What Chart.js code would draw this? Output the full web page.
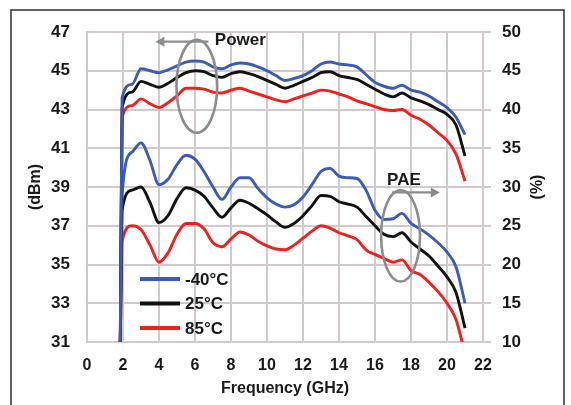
<!DOCTYPE html>
<html>
<head>
<meta charset="utf-8">
<script src="https://cdn.jsdelivr.net/npm/chart.js@4.4.0/dist/chart.umd.min.js"></script>
<style>
  html, body { margin: 0; padding: 0; background: #fff; }
  canvas { display: block; }
</style>
</head>
<body>
<canvas id="chart" width="571" height="405"></canvas>
<script>
// frequency grid (GHz)
const freq = [1.85, 1.95, 2.5, 3, 3.5, 4, 4.5, 5, 5.5, 6, 6.5, 7, 7.5, 8, 8.5, 9, 9.5, 10, 10.5, 11,
  11.5, 12, 12.5, 13, 13.5, 14, 14.5, 15, 15.5, 16, 16.5, 17, 17.5, 18, 18.5, 19, 19.5, 20, 20.5, 21];

// output power (dBm)
const powerM40 = [31, 43.6, 44.3, 45.1, 45.0, 44.9, 45.05, 45.25, 45.45, 45.5, 45.45, 45.2, 45.1, 45.3, 45.4, 45.35, 45.2, 45.0, 44.75, 44.5,
  44.6, 44.75, 45.0, 45.35, 45.45, 45.35, 45.3, 45.2, 44.8, 44.4, 44.2, 44.1, 44.25, 44.0, 43.9, 43.7, 43.4, 43.1, 42.6, 41.7];
const power25 = [31, 43.1, 43.9, 44.45, 44.3, 44.15, 44.35, 44.65, 44.9, 45.0, 44.95, 44.75, 44.66, 44.85, 44.95, 44.85, 44.7, 44.5, 44.3, 44.1,
  44.25, 44.45, 44.65, 44.9, 44.95, 44.75, 44.65, 44.55, 44.3, 44.05, 43.8, 43.65, 43.85, 43.6, 43.45, 43.25, 43.0, 42.75, 42.2, 40.6];
const power85 = [31, 42.6, 43.2, 43.55, 43.3, 43.1, 43.35, 43.7, 44.1, 44.1, 44.05, 43.9, 43.85, 44.0, 44.1, 43.95, 43.8, 43.65, 43.5, 43.4,
  43.55, 43.7, 43.85, 44.0, 43.95, 43.8, 43.65, 43.45, 43.3, 43.15, 43.0, 42.95, 43.0, 42.7, 42.5, 42.2, 41.8, 41.4, 40.7, 39.3];

// power added efficiency (%)
const paeM40 = [10, 29.0, 34.5, 35.7, 33.4, 30.3, 31.0, 32.9, 34.1, 33.6, 32.0, 30.0, 28.4, 30.0, 31.2, 31.2, 29.8, 28.6, 27.8, 27.4,
  27.7, 28.7, 30.3, 32.0, 32.4, 31.4, 31.2, 31.1, 29.6, 27.0, 25.8, 25.9, 26.6, 25.3, 24.6, 23.8, 22.8, 21.6, 19.7, 15.0];
const pae25 = [10, 27.0, 29.6, 30.0, 28.0, 25.4, 26.3, 28.5, 29.9, 29.6, 28.8, 27.3, 26.1, 27.3, 28.3, 27.9, 27.2, 26.4, 25.5, 24.8,
  25.3, 26.3, 27.6, 28.9, 28.8, 28.1, 27.8, 27.4, 26.2, 25.0, 23.9, 23.6, 24.1, 22.9, 22.0, 21.1, 19.8, 18.4, 16.4, 11.8];
const pae85 = [10, 23.0, 25.0, 24.5, 22.5, 20.3, 21.5, 23.9, 25.3, 25.3, 24.6, 22.8, 22.3, 23.3, 24.2, 23.8, 23.0, 22.4, 22.0, 21.9,
  22.5, 23.4, 24.3, 25.0, 24.7, 24.1, 23.7, 23.2, 21.9, 21.3, 20.8, 20.3, 20.6, 19.2, 18.7, 17.7, 16.5, 15.0, 12.9, 8.5];

const legendLabels = ['-40°C', '25°C', '85°C'];
const lineColors = ['#3a5cb8', '#111111', '#f0201e'];

// tick labels
const freqTicks = [0, 2, 4, 6, 8, 10, 12, 14, 16, 18, 20, 22];
const dbmTicks = [31, 33, 35, 37, 39, 41, 43, 45, 47];
const pctTicks = [10, 15, 20, 25, 30, 35, 40, 45, 50];

const FONT = '"Liberation Sans", Arial, sans-serif';
const GRID = '#d2caca';
const GRAY = '#8c8c8c';

function pts(ys) {
  return freq.map((f, i) => ({ x: f, y: ys[i] }));
}

function series(ys, idx, axis) {
  return {
    label: legendLabels[idx],
    data: pts(ys),
    yAxisID: axis,
    borderColor: lineColors[idx],
    borderWidth: 2.9,
    pointRadius: 0,
    fill: false,
    cubicInterpolationMode: 'monotone'
  };
}

function arrow(ctx, x1, y1, x2, y2) {
  // line from (x1,y1) to tip at (x2,y2)
  const ang = Math.atan2(y2 - y1, x2 - x1);
  ctx.beginPath();
  ctx.moveTo(x1, y1);
  ctx.lineTo(x2 - 6 * Math.cos(ang), y2 - 6 * Math.sin(ang));
  ctx.stroke();
  ctx.beginPath();
  ctx.moveTo(x2, y2);
  ctx.lineTo(x2 - 9 * Math.cos(ang) + 5 * Math.sin(ang), y2 - 9 * Math.sin(ang) - 5 * Math.cos(ang));
  ctx.lineTo(x2 - 9 * Math.cos(ang) - 5 * Math.sin(ang), y2 - 9 * Math.sin(ang) + 5 * Math.cos(ang));
  ctx.closePath();
  ctx.fill();
}

const decor = {
  id: 'decor',
  afterDraw(chart) {
    const ctx = chart.ctx;
    const xs = chart.scales.x, yl = chart.scales.y, yr = chart.scales.y1;
    const ca = chart.chartArea;
    ctx.save();

    // annotations: ellipses + arrows
    ctx.strokeStyle = GRAY;
    ctx.fillStyle = GRAY;
    ctx.lineWidth = 2.6;
    ctx.beginPath();
    ctx.ellipse(xs.getPixelForValue(6.1), yl.getPixelForValue(44.2),
      xs.getPixelForValue(7.23) - xs.getPixelForValue(6.1),
      yl.getPixelForValue(44.2) - yl.getPixelForValue(46.6), 0, 0, Math.PI * 2);
    ctx.stroke();
    ctx.beginPath();
    ctx.ellipse(xs.getPixelForValue(17.42), yr.getPixelForValue(23.7),
      xs.getPixelForValue(18.5) - xs.getPixelForValue(17.42),
      yr.getPixelForValue(23.7) - yr.getPixelForValue(29.6), 0, 0, Math.PI * 2);
    ctx.stroke();
    ctx.lineWidth = 2.2;
    arrow(ctx, xs.getPixelForValue(6.75), yl.getPixelForValue(46.5), xs.getPixelForValue(3.8), yl.getPixelForValue(46.5));
    arrow(ctx, xs.getPixelForValue(16.95), yr.getPixelForValue(29.3), xs.getPixelForValue(19.6), yr.getPixelForValue(29.3));

    ctx.fillStyle = '#1a1a1a';
    ctx.font = 'bold 17px ' + FONT;
    ctx.textBaseline = 'middle';
    ctx.textAlign = 'left';
    ctx.fillText('Power', xs.getPixelForValue(7.1), yl.getPixelForValue(46.55));
    ctx.fillText('PAE', xs.getPixelForValue(16.67), yr.getPixelForValue(30.9));

    // legend
    legendLabels.forEach((lab, i) => {
      const y = 279 + i * 24.5;
      ctx.strokeStyle = lineColors[i];
      ctx.lineWidth = 4;
      ctx.beginPath();
      ctx.moveTo(140, y);
      ctx.lineTo(180, y);
      ctx.stroke();
      ctx.fillStyle = '#1a1a1a';
      ctx.fillText(lab, 185, y + 1);
    });

    // axis titles
    ctx.font = 'bold 16px ' + FONT;
    ctx.textAlign = 'center';
    ctx.fillText('Frequency (GHz)', (ca.left + ca.right) / 2, 389);
    ctx.save();
    ctx.translate(36, 187);
    ctx.rotate(-Math.PI / 2);
    ctx.fillText('(dBm)', 0, 0);
    ctx.restore();
    ctx.save();
    ctx.translate(538, 187);
    ctx.rotate(-Math.PI / 2);
    ctx.fillText('(%)', 0, 0);
    ctx.restore();

    // outer frame
    ctx.strokeStyle = '#3a3a3a';
    ctx.lineWidth = 1.6;
    ctx.strokeRect(11, 10, 553, 420);
    ctx.restore();
  }
};

new Chart(document.getElementById('chart'), {
  type: 'line',
  data: {
    datasets: [
      series(powerM40, 0, 'y'),
      series(power25, 1, 'y'),
      series(power85, 2, 'y'),
      series(paeM40, 0, 'y1'),
      series(pae25, 1, 'y1'),
      series(pae85, 2, 'y1')
    ]
  },
  options: {
    responsive: false,
    animation: false,
    layout: { padding: { top: 32, left: 0, right: 0, bottom: 0 } },
    plugins: { legend: { display: false }, tooltip: { enabled: false } },
    scales: {
      x: {
        type: 'linear',
        min: freqTicks[0],
        max: freqTicks[freqTicks.length - 1],
        ticks: { stepSize: freqTicks[1] - freqTicks[0], color: '#1a1a1a', font: { family: FONT, size: 16, weight: 'bold' }, padding: 14 },
        grid: { color: GRID, lineWidth: 2, drawTicks: false },
        border: { color: GRID, width: 2 },
        afterFit(s) { s.height = 63; }
      },
      y: {
        position: 'left',
        min: dbmTicks[0],
        max: dbmTicks[dbmTicks.length - 1],
        ticks: { stepSize: dbmTicks[1] - dbmTicks[0], color: '#1a1a1a', font: { family: FONT, size: 17, weight: 'bold' }, padding: 17 },
        grid: { color: GRID, lineWidth: 2, drawTicks: false },
        border: { color: GRID, width: 2 },
        afterFit(s) { s.width = 87; }
      },
      y1: {
        position: 'right',
        min: pctTicks[0],
        max: pctTicks[pctTicks.length - 1],
        ticks: { stepSize: pctTicks[1] - pctTicks[0], color: '#1a1a1a', font: { family: FONT, size: 17, weight: 'bold' }, padding: 11 },
        grid: { color: GRID, lineWidth: 2, drawOnChartArea: false, drawTicks: true, tickLength: 8 },
        border: { color: GRID, width: 2 },
        afterFit(s) { s.width = 88; }
      }
    }
  },
  plugins: [decor]
});
</script>
</body>
</html>
